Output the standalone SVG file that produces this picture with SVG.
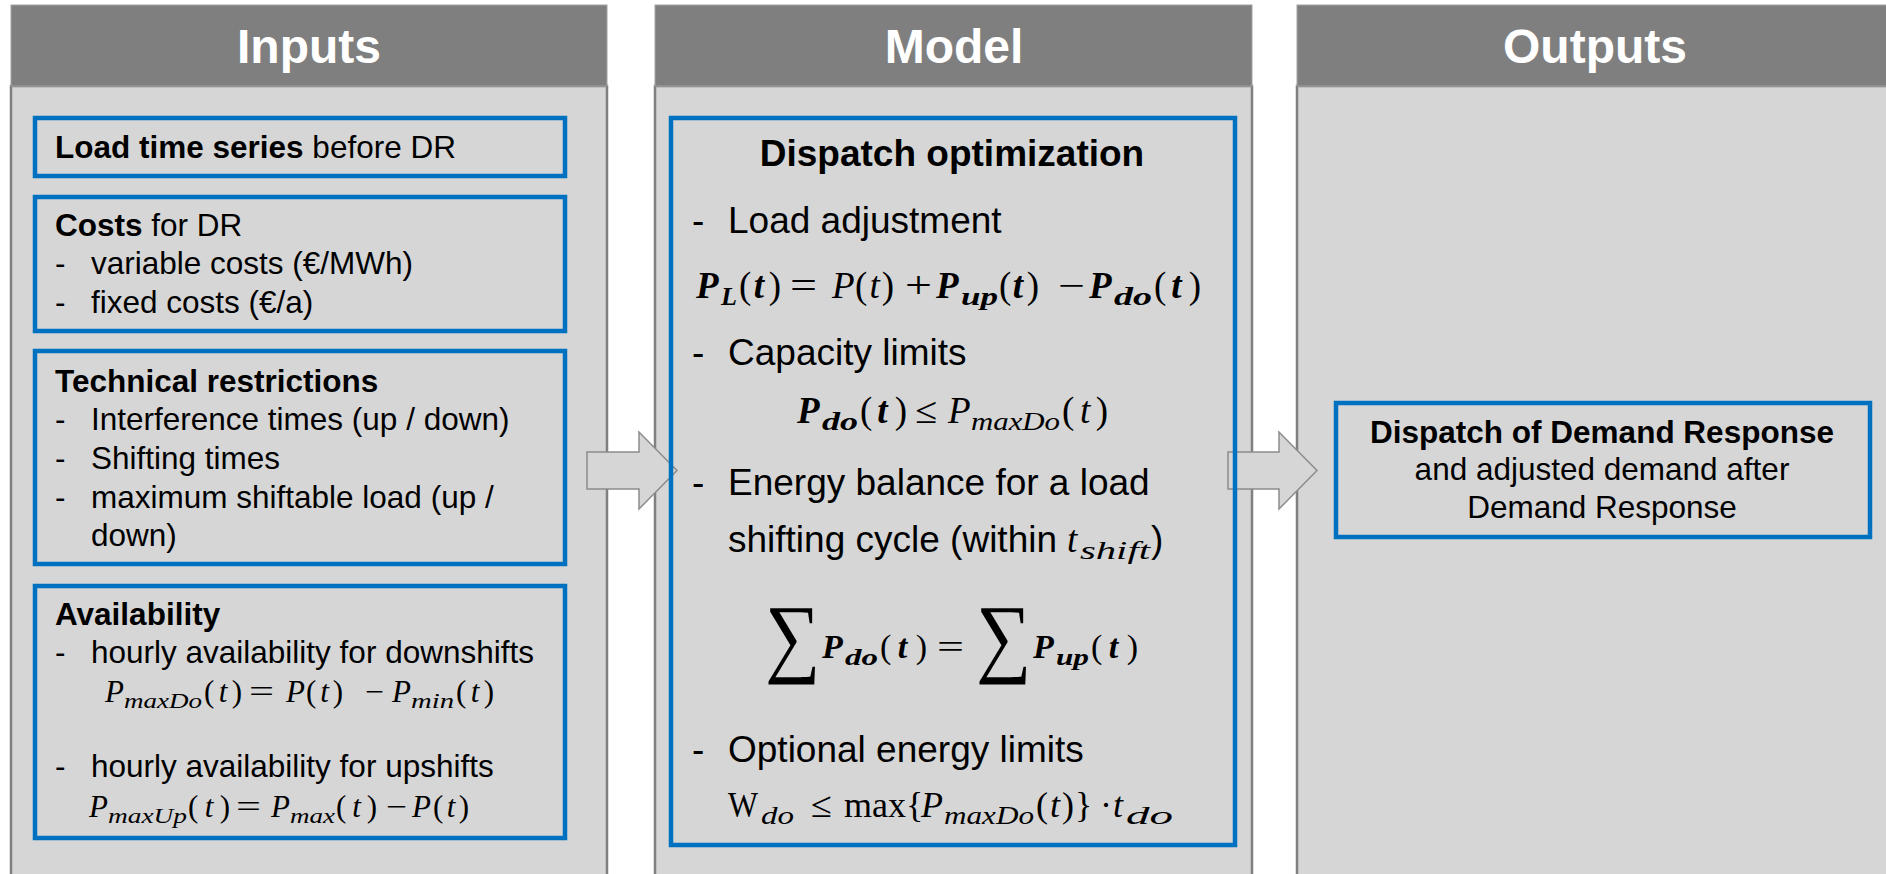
<svg xmlns="http://www.w3.org/2000/svg" width="1886" height="874" viewBox="0 0 1886 874">
  <style>
    .hdr{fill:#7F7F7F;stroke:#A3A3A3;stroke-width:1}
    .body{fill:#D6D6D6;stroke:#808080;stroke-width:2.5}
    .box{fill:none;stroke:#0070C0;stroke-width:4.5}
    .arrow{fill:#D6D6D6;stroke:#8C8C8C;stroke-width:1.5;stroke-linejoin:miter}
    .ht{font-family:"Liberation Sans",Arial,sans-serif;font-weight:bold;font-size:48px;fill:#FFFFFF;text-anchor:middle}
    .t{font-family:"Liberation Sans",Arial,sans-serif;font-size:31.5px;fill:#000000}
    .tm{font-family:"Liberation Sans",Arial,sans-serif;font-size:37px;fill:#000000}
    .c{text-anchor:middle}
    .b{font-weight:bold}
    .m{font-family:"Liberation Serif","Times New Roman",serif;fill:#000000}
    .i{font-style:italic}
    .bi{font-style:italic;font-weight:bold}
  </style>

  <!-- column frames -->
  <g id="col-inputs">
    <rect class="body" x="11" y="86" width="596" height="820"/>
    <rect class="hdr" x="11" y="5" width="596" height="81"/>
    <text class="ht" x="309" y="63">Inputs</text>
  </g>
  <g id="col-model">
    <rect class="body" x="655" y="86" width="597" height="820"/>
    <rect class="hdr" x="655" y="5" width="597" height="81"/>
    <text class="ht" x="954" y="63">Model</text>
  </g>
  <g id="col-outputs">
    <rect class="body" x="1297" y="86" width="620" height="820"/>
    <rect class="hdr" x="1297" y="5" width="620" height="81"/>
    <text class="ht" x="1595" y="63">Outputs</text>
  </g>

  <!-- block arrows between the columns -->
  <g id="connectors">
    <polygon class="arrow" points="587,452 639,452 639,432 677,470.5 639,509 639,489 587,489"/>
    <polygon class="arrow" points="1228,452 1279,452 1279,432 1317,470.5 1279,509 1279,489 1228,489"/>
  </g>

  <!-- inputs -->
  <g id="load-series">
    <rect class="box" x="35" y="118" width="530" height="58"/>
    <text class="t" x="55" y="158"><tspan class="b">Load time series</tspan> before DR</text>
  </g>

  <g id="costs">
    <rect class="box" x="35" y="197" width="530" height="134"/>
    <text class="t" x="55" y="236"><tspan class="b">Costs</tspan> for DR</text>
    <text class="t" x="55" y="274">-</text>
    <text class="t" x="91" y="274">variable costs (€/MWh)</text>
    <text class="t" x="55" y="313">-</text>
    <text class="t" x="91" y="313">fixed costs (€/a)</text>
  </g>

  <g id="technical">
    <rect class="box" x="35" y="351" width="530" height="213"/>
    <text class="t b" x="55" y="392">Technical restrictions</text>
    <text class="t" x="55" y="430">-</text>
    <text class="t" x="91" y="430">Interference times (up / down)</text>
    <text class="t" x="55" y="469">-</text>
    <text class="t" x="91" y="469">Shifting times</text>
    <text class="t" x="55" y="508">-</text>
    <text class="t" x="91" y="508">maximum shiftable load (up /</text>
    <text class="t" x="91" y="546">down)</text>
  </g>

  <g id="availability">
    <rect class="box" x="35" y="586" width="530" height="252"/>
    <text class="t b" x="55" y="625">Availability</text>
    <text class="t" x="55" y="663">-</text>
    <text class="t" x="91" y="663">hourly availability for downshifts</text>
    <!-- P_maxDo(t) = P(t) - P_min(t) -->
    <g class="m" font-size="31">
      <text class="i" x="105" y="702">P</text>
      <text class="i" x="124" y="708" font-size="22" textLength="78" lengthAdjust="spacingAndGlyphs">maxDo</text>
      <text y="702"><tspan x="204">(</tspan><tspan class="i" x="218.7">t</tspan><tspan x="231.7">)</tspan></text>
      <text x="249" y="702" textLength="25" lengthAdjust="spacingAndGlyphs">=</text>
      <text class="i" x="286" y="702">P</text>
      <text y="702"><tspan x="306">(</tspan><tspan class="i" x="320.2">t</tspan><tspan x="332.7">)</tspan></text>
      <text x="365" y="702" textLength="19" lengthAdjust="spacingAndGlyphs">−</text>
      <text class="i" x="392" y="702">P</text>
      <text class="i" x="411" y="708" font-size="22" textLength="43" lengthAdjust="spacingAndGlyphs">min</text>
      <text y="702"><tspan x="456">(</tspan><tspan class="i" x="470.7">t</tspan><tspan x="483.7">)</tspan></text>
    </g>
    <text class="t" x="55" y="777">-</text>
    <text class="t" x="91" y="777">hourly availability for upshifts</text>
    <!-- P_maxUp(t) = P_max(t) - P(t) -->
    <g class="m" font-size="31">
      <text class="i" x="89" y="817">P</text>
      <text class="i" x="108" y="823" font-size="22" textLength="79" lengthAdjust="spacingAndGlyphs">maxUp</text>
      <text y="817"><tspan x="188">(</tspan><tspan class="i" x="204.7">t</tspan><tspan x="219.7">)</tspan></text>
      <text x="236" y="817" textLength="25" lengthAdjust="spacingAndGlyphs">=</text>
      <text class="i" x="271" y="817">P</text>
      <text class="i" x="290" y="823" font-size="22" textLength="45" lengthAdjust="spacingAndGlyphs">max</text>
      <text y="817"><tspan x="336">(</tspan><tspan class="i" x="352.2">t</tspan><tspan x="366.7">)</tspan></text>
      <text x="386" y="817" textLength="21" lengthAdjust="spacingAndGlyphs">−</text>
      <text class="i" x="412" y="817">P</text>
      <text y="817"><tspan x="433">(</tspan><tspan class="i" x="446.7">t</tspan><tspan x="458.7">)</tspan></text>
    </g>
  </g>

  <!-- model -->
  <g id="dispatch-optimization">
    <rect class="box" x="671" y="118" width="564" height="727"/>
    <text class="tm b c" x="952" y="166">Dispatch optimization</text>

    <text class="tm" x="692" y="233">-</text>
    <text class="tm" x="728" y="233">Load adjustment</text>
    <!-- P_L(t) = P(t) + P_up(t) - P_do(t) -->
    <g class="m" font-size="37">
      <text class="bi" x="696" y="298">P</text>
      <text class="bi" x="721" y="305" font-size="26" textLength="16" lengthAdjust="spacingAndGlyphs">L</text>
      <text y="298"><tspan x="739">(</tspan><tspan class="bi" x="753.8">t</tspan><tspan x="768.7">)</tspan></text>
      <text x="790" y="298" textLength="27" lengthAdjust="spacingAndGlyphs">=</text>
      <text class="i" x="832" y="298">P</text>
      <text y="298"><tspan x="855">(</tspan><tspan class="i" x="869.4">t</tspan><tspan x="881.7">)</tspan></text>
      <text x="905" y="298" textLength="27" lengthAdjust="spacingAndGlyphs">+</text>
      <text class="bi" x="936" y="298">P</text>
      <text class="bi" x="961" y="305" font-size="26" textLength="37" lengthAdjust="spacingAndGlyphs">up</text>
      <text y="298"><tspan x="999">(</tspan><tspan class="bi" x="1012.8">t</tspan><tspan x="1026.7">)</tspan></text>
      <text x="1058" y="298" textLength="27" lengthAdjust="spacingAndGlyphs">−</text>
      <text class="bi" x="1089" y="298">P</text>
      <text class="bi" x="1114" y="305" font-size="26" textLength="38" lengthAdjust="spacingAndGlyphs">do</text>
      <text y="298"><tspan x="1154">(</tspan><tspan class="bi" x="1171.3">t</tspan><tspan x="1188.7">)</tspan></text>
    </g>

    <text class="tm" x="692" y="365">-</text>
    <text class="tm" x="728" y="365">Capacity limits</text>
    <!-- P_do(t) <= P_maxDo(t) -->
    <g class="m" font-size="37">
      <text class="bi" x="797" y="423">P</text>
      <text class="bi" x="822" y="430" font-size="26" textLength="36" lengthAdjust="spacingAndGlyphs">do</text>
      <text y="423"><tspan x="860">(</tspan><tspan class="bi" x="877.3">t</tspan><tspan x="894.7">)</tspan></text>
      <text x="915" y="423" textLength="22" lengthAdjust="spacingAndGlyphs">≤</text>
      <text class="i" x="948" y="423">P</text>
      <text class="i" x="971" y="430" font-size="26" textLength="89" lengthAdjust="spacingAndGlyphs">maxDo</text>
      <text y="423"><tspan x="1062">(</tspan><tspan class="i" x="1079.9">t</tspan><tspan x="1095.7">)</tspan></text>
    </g>

    <text class="tm" x="692" y="495">-</text>
    <text class="tm" x="728" y="495">Energy balance for a load</text>
    <text class="tm" x="728" y="552">shifting cycle (within</text>
    <text class="m i" font-size="37" x="1067" y="552">t</text>
    <text class="m i" font-size="26" x="1080" y="559" textLength="70" lengthAdjust="spacingAndGlyphs">shift</text>
    <text class="tm" x="1151" y="552">)</text>

    <!-- sum P_do(t) = sum P_up(t) -->
    <g class="m" font-size="34">
      <text font-size="72" transform="translate(765,666) scale(1.08,1.22)">∑</text>
      <text class="bi" x="822" y="658">P</text>
      <text class="bi" x="845" y="665" font-size="24" textLength="33" lengthAdjust="spacingAndGlyphs">do</text>
      <text y="658"><tspan x="880">(</tspan><tspan class="bi" x="897.8">t</tspan><tspan x="915.7">)</tspan></text>
      <text x="937" y="658" textLength="27" lengthAdjust="spacingAndGlyphs">=</text>
      <text font-size="72" transform="translate(976,666) scale(1.08,1.22)">∑</text>
      <text class="bi" x="1033" y="658">P</text>
      <text class="bi" x="1056" y="665" font-size="24" textLength="33" lengthAdjust="spacingAndGlyphs">up</text>
      <text y="658"><tspan x="1091">(</tspan><tspan class="bi" x="1108.8">t</tspan><tspan x="1126.7">)</tspan></text>
    </g>

    <text class="tm" x="692" y="762">-</text>
    <text class="tm" x="728" y="762">Optional energy limits</text>
    <!-- W_do <= max{P_maxDo(t)} . t_do -->
    <g class="m" font-size="36">
      <text x="728" y="817" textLength="30" lengthAdjust="spacingAndGlyphs">W</text>
      <text class="i" x="761" y="824" font-size="25" textLength="33" lengthAdjust="spacingAndGlyphs">do</text>
      <text x="811" y="817" textLength="21" lengthAdjust="spacingAndGlyphs">≤</text>
      <text x="844" y="817">max</text>
      <text x="906" y="817">{</text>
      <text class="i" x="921" y="817">P</text>
      <text class="i" x="944" y="824" font-size="25" textLength="90" lengthAdjust="spacingAndGlyphs">maxDo</text>
      <text y="817"><tspan x="1036">(</tspan><tspan class="i" x="1050">t</tspan><tspan x="1062">)</tspan></text>
      <text x="1075" y="817">}</text>
      <text x="1100" y="817">·</text>
      <text class="i" x="1113" y="817">t</text>
      <text class="i" x="1126" y="824" font-size="25" textLength="47" lengthAdjust="spacingAndGlyphs">do</text>
    </g>
  </g>

  <!-- outputs -->
  <g id="dr-dispatch">
    <rect class="box" x="1336" y="403" width="534" height="134"/>
    <text class="t b c" x="1602" y="443">Dispatch of Demand Response</text>
    <text class="t c" x="1602" y="480">and adjusted demand after</text>
    <text class="t c" x="1602" y="518">Demand Response</text>
  </g>
</svg>
